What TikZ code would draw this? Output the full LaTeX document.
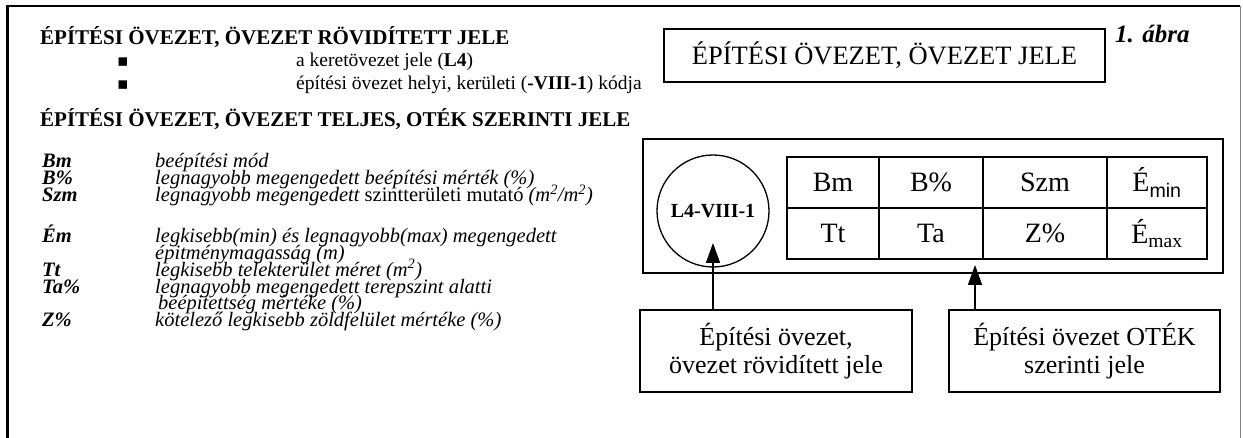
\documentclass[tikz,border=0pt]{standalone}
\usepackage{fontspec}
\setmainfont{Liberation Serif}
\newfontfamily\symfont{DejaVu Sans}
\newfontfamily\subsans{Liberation Sans}
\usetikzlibrary{positioning,arrows.meta}

\begin{document}
\begin{tikzpicture}[x=1pt,y=-1pt,
   every node/.style={inner sep=0pt},
   head/.style={anchor=base west,font=\fontsize{21}{25}\selectfont\bfseries},
   item/.style={anchor=base west,font=\fontsize{19.5}{23}\selectfont},
   dot/.style={anchor=base west,font=\fontsize{17}{19}\symfont},
   abbr/.style={anchor=base west,font=\fontsize{20.5}{17}\selectfont\bfseries\itshape},
   desc/.style={anchor=base west,font=\fontsize{20.5}{17}\selectfont\itshape},
   box/.style={draw,line width=1.6pt,align=center},
   cell/.style={draw,line width=1.3pt,minimum height=51,font=\fontsize{28}{30}\selectfont},
   up/.style={-{Triangle[length=20pt,width=14pt]},line width=1.6pt}]
\useasboundingbox (0,0) rectangle (1243,438);
\draw[line width=3pt] (7.5,450) -- (7.5,6);
\draw[line width=2pt] (6,6) -- (1240,6);
\draw[gray,line width=1pt] (1240,6) -- (1240,450);

\node[head] (t1) at (40,45) {ÉPÍTÉSI ÖVEZET, ÖVEZET RÖVIDÍTETT JELE};
\node[dot] (d1) at (117,67) {▪};
\node[item] (i1) at (296,67) {a keretövezet jele (\textbf{L4})};
\node[dot] (d2) at (117,90) {▪};
\node[item] (i2) at (296,90) {építési övezet helyi, kerületi (\textbf{-VIII-1}) kódja};
\node[head] (t2) at (40,127) {ÉPÍTÉSI ÖVEZET, ÖVEZET TELJES, OTÉK SZERINTI JELE};

\node[abbr] (bm) at (42,168) {Bm};
\node[desc] (bmd) at (155,168) {beépítési mód};
\node[abbr] (bp) at (42,184.9) {B\%};
\node[desc] (bpd) at (155,184.9) {legnagyobb megengedett beépítési mérték (\%)};
\node[abbr] (szm) at (42,201.8) {Szm};
\node[desc] (szmd) at (155,201.8) {legnagyobb megengedett {\upshape szintterületi mutató} (m\textsuperscript{2}/m\textsuperscript{2})};
\node[abbr] (em) at (42,242.4) {Ém};
\node[desc] (emd) at (155,242.4) {legkisebb(min) és legnagyobb(max) megengedett};
\node[desc] (emd2) at (155,259.3) {épitménymagasság (m)};
\node[abbr] (tt) at (42,276.2) {Tt};
\node[desc] (ttd) at (155,276.2) {legkisebb telekterület méret (m\textsuperscript{2})};
\node[abbr] (ta) at (42,293.1) {Ta\%};
\node[desc] (tad) at (155,293.1) {legnagyobb megengedett terepszint alatti};
\node[desc] (tad2) at (158,310) {beépitettség mértéke (\%)};
\node[abbr] (z) at (42,326.9) {Z\%};
\node[desc] (zd) at (155,326.9) {kötelező legkisebb zöldfelület mértéke (\%)};

\node[box,minimum width=441,minimum height=53,font=\fontsize{26.5}{30}\selectfont] (jele) at (884.5,55.5) {ÉPÍTÉSI ÖVEZET, ÖVEZET JELE};
\node[anchor=base west,font=\fontsize{25}{28}\selectfont\bfseries\itshape] (abra) at (1115,43) {1. ábra};

\node[draw,line width=2pt,minimum width=580,minimum height=134] (panel) at (932.5,206) {};
\node[circle,draw,line width=1.3pt,minimum size=112,font=\fontsize{20}{22}\selectfont\bfseries] (code) at (713,211) {L4-VIII-1};
\node[cell,minimum width=92] (bmc) at (833,182.5) {Bm};
\node[cell,minimum width=104] (bpc) at (931,182.5) {B\%};
\node[cell,minimum width=124] (szmc) at (1045,182.5) {Szm};
\node[cell,minimum width=100] (eminc) at (1157,182.5) {É\textsubscript{\subsans min}};
\node[cell,minimum width=92] (ttc) at (833,233.5) {Tt};
\node[cell,minimum width=104] (tac) at (931,233.5) {Ta};
\node[cell,minimum width=124] (zc) at (1045,233.5) {Z\%};
\node[cell,minimum width=100] (emaxc) at (1157,233.5) {É\textsubscript{max}};

\node[box,minimum width=272,minimum height=82,font=\fontsize{26}{28}\selectfont] (rovid) at (776,351) {Építési övezet,\\övezet rövidített jele};
\node[box,minimum width=271,minimum height=82,font=\fontsize{26}{28}\selectfont] (otek) at (1084.5,351) {Építési övezet OTÉK\\szerinti jele};
\coordinate (ltip) at (713,243);
\coordinate (rtip) at (975,265);
\draw[up] (ltip |- rovid.north) -- (ltip);
\draw[up] (rtip |- otek.north) -- (rtip);
\end{tikzpicture}
\end{document}
